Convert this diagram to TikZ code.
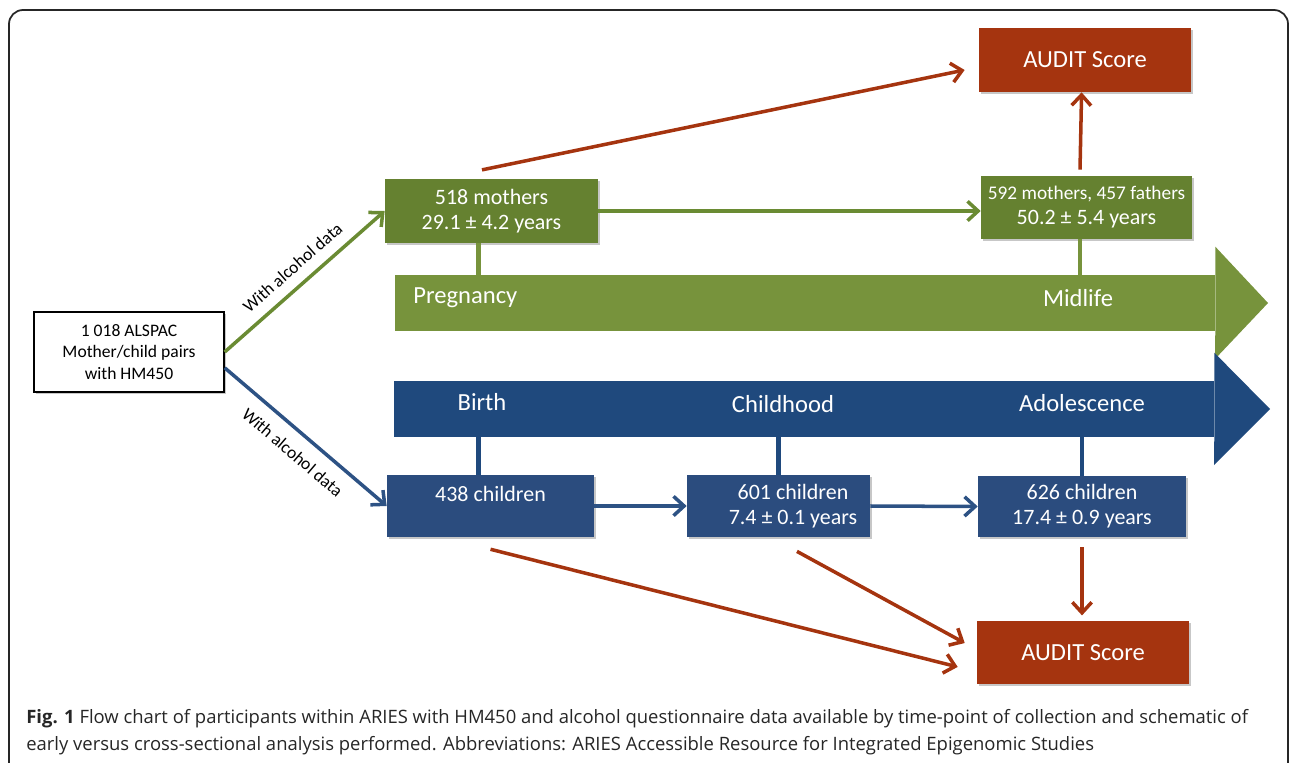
\documentclass[tikz,border=0pt]{standalone}
\usepackage{fontspec}
\setmainfont{Carlito}
\newfontfamily\capfont{Open Sans}
\usetikzlibrary{arrows.meta,shadows}

\definecolor{boxgreen}{HTML}{658130}
\definecolor{bargreen}{HTML}{77933C}
\definecolor{linegreen}{HTML}{6A8B33}
\definecolor{barblue}{HTML}{1F497D}
\definecolor{boxblue}{HTML}{2B4C7E}
\definecolor{lineblue}{HTML}{2D5284}
\definecolor{auditred}{HTML}{A5340F}

\begin{document}
\begin{tikzpicture}[x=0.02cm, y=-0.02cm,
    boxshadow/.style={drop shadow={shadow xshift=1.2pt, shadow yshift=-1.2pt, fill=black, opacity=0.22}},
    flowbox/.style={rectangle, inner sep=0pt, text=white, align=center, boxshadow,
        font=\fontsize{12.5}{14.2}\selectfont},
    greenbox/.style={flowbox, fill=boxgreen},
    bluebox/.style={flowbox, fill=boxblue},
    auditbox/.style={flowbox, fill=auditred, font=\fontsize{14}{16}\selectfont},
    barlabel/.style={inner sep=0pt, text=white, font=\fontsize{14}{16}\selectfont},
    link/.style={line width=2pt, -{Straight Barb[length=6pt, width=11pt]}},
    stem/.style={line width=2.8pt},
    sidelabel/.style={font=\fontsize{10}{12}\selectfont, text=black, inner sep=0pt}]

    \useasboundingbox (0,0) rectangle (1290,763);
    \draw[line width=1pt, black!85, rounded corners=8] (9,10) rectangle (1288,790);

    % time bars
    \node[rectangle, fill=bargreen, minimum width=16.4cm, minimum height=1.12cm, inner sep=0pt] (pbar) at (805,303) {};
    \fill[bargreen] (pbar.north east) -- ++(0,-28) -- (1268,303) -- (1215,359) -- (pbar.south east) -- cycle;
    \node[rectangle, fill=barblue, minimum width=16.4cm, minimum height=1.12cm, inner sep=0pt] (cbar) at (804,409) {};
    \fill[barblue] (cbar.north east) -- ++(0,-28) -- (1270,409) -- (1214,465) -- (cbar.south east) -- cycle;

    \node[barlabel, anchor=base west] (preg) at (413,303) {Pregnancy};
    \node[barlabel, anchor=base] (mid) at (1078,306) {Midlife};
    \node[barlabel, anchor=base] (birth) at (482,410) {Birth};
    \node[barlabel, anchor=base] (child) at (783,412) {Childhood};
    \node[barlabel, anchor=base] (adol) at (1082,411) {Adolescence};

    % boxes
    \node[draw, line width=0.8pt, fill=white, minimum width=3.8cm, minimum height=1.6cm, align=center,
        inner sep=0pt, font=\fontsize{10}{12}\selectfont, boxshadow] (alspac) at (129,352)
        {1 018 ALSPAC\\Mother/child pairs\\with HM450};

    \node[greenbox, minimum width=4.26cm, minimum height=1.28cm] (m1) at (491.5,211)
        {518 mothers\\29.1 ± 4.2 years};
    \node[greenbox, minimum width=4.22cm, minimum height=1.26cm] (m2) at (1086.5,207.5)
        {{\fontsize{11}{13}\selectfont 592 mothers, 457 fathers}\\50.2 ± 5.4 years};
    \node[auditbox, minimum width=4.24cm, minimum height=1.28cm] (audA) at (1085,60) {AUDIT Score};

    \node[bluebox, minimum width=4.14cm, minimum height=1.24cm] (c1) at (490.5,506)
        {438 children\\\mbox{}};
    \node[bluebox, minimum width=3.66cm, minimum height=1.24cm] (c2) at (778.5,506) {};
    \node[inner sep=0pt, text=white, align=center, font=\fontsize{12.5}{14.2}\selectfont] (c2txt) at (793,506)
        {601 children\\7.4 ± 0.1 years};
    \node[bluebox, minimum width=4.16cm, minimum height=1.22cm] (c3) at (1082,506.5)
        {626 children\\17.4 ± 0.9 years};
    \node[auditbox, minimum width=4.24cm, minimum height=1.26cm] (audB) at (1083,652.5) {AUDIT Score};

    % stems to the bars
    \draw[stem, bargreen] ([xshift=-7.6pt]m1.south) -- ([xshift=-7.6pt]m1.south |- pbar.north);
    \draw[stem, bargreen] ([xshift=-3.7pt]m2.south) -- ([xshift=-3.7pt]m2.south |- pbar.north);
    \draw[stem, barblue] ([xshift=-7pt]c1.north) -- ([xshift=-7pt]c1.north |- cbar.south);
    \draw[stem, barblue] (c2.north) -- (c2.north |- cbar.south);
    \draw[stem, barblue] (c3.north) -- (c3.north |- cbar.south);

    % connectors
    \draw[link, linegreen] (alspac.east) -- node[sidelabel, above=6pt, sloped] (wa1) {With alcohol data} (m1.west);
    \draw[link, lineblue] ([yshift=-9pt]alspac.east) -- node[sidelabel, below=7pt, sloped] (wa2) {With alcohol data} (c1.west);
    \draw[link, linegreen] (m1.east) -- (m1.east -| m2.west);
    \draw[link, lineblue] (c1.east) -- (c2.west);
    \draw[link, lineblue] (c2.east) -- (c3.west);

    \draw[link, auditred] ([xshift=-3.7pt, yshift=3.4pt]m2.north) -- ([xshift=-2.8pt]m2.north |- audA.south);
    \draw[link, auditred, shorten >=3pt] ([yshift=-5.6pt]c3.south) -- (c3.south |- audB.north);
    \draw[link, auditred] ([xshift=-5.4pt, yshift=5pt]m1.north) -- ([xshift=-8pt, yshift=-5.7pt]audA.west);
    \draw[link, auditred] ([yshift=-6.8pt]c1.south) -- ([xshift=-10.8pt, yshift=-8.2pt]audB.west);
    \draw[link, auditred] ([xshift=10.5pt, yshift=-8pt]c2.south) -- ([xshift=-6.8pt, yshift=5.4pt]audB.west);

    % caption
    \node[anchor=base west, inner sep=0pt, text=black!85, font=\capfont\fontsize{10.5}{12}\selectfont] (cap1) at (26,723)
        {\textbf{Fig. 1} Flow chart of participants within ARIES with HM450 and alcohol questionnaire data available by time-point of collection and schematic of};
    \node[anchor=base west, inner sep=0pt, text=black!85, font=\capfont\fontsize{10.5}{12}\selectfont] (cap2) at (26,750)
        {early versus cross-sectional analysis performed. Abbreviations: ARIES Accessible Resource for Integrated Epigenomic Studies};
\end{tikzpicture}
\end{document}
